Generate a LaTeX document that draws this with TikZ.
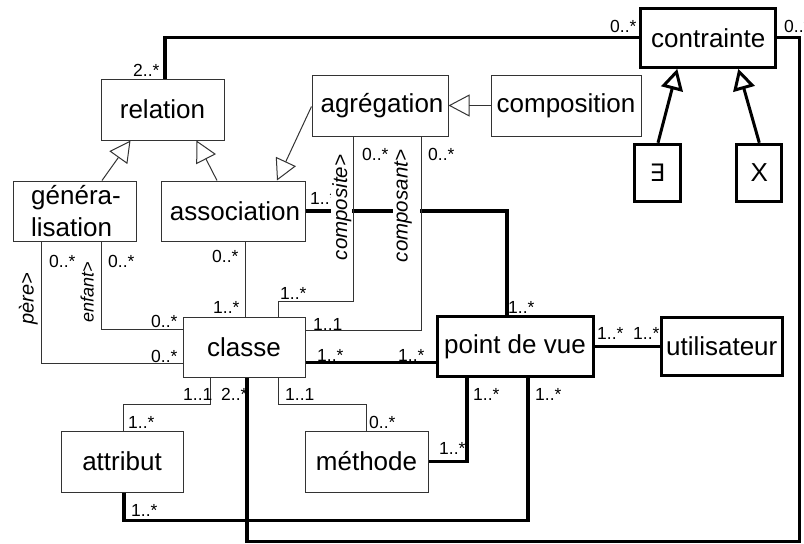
\documentclass[tikz,border=0pt]{standalone}
\usepackage{fontspec}
\setmainfont{Liberation Sans}
\newfontfamily\symbfont{DejaVu Sans}
\usetikzlibrary{arrows.meta}

\tikzset{
  box/.style={draw=black!80, line width=1pt, inner sep=0pt,
    font=\fontsize{26}{32}\selectfont},
  tbox/.style={box, draw=black, line width=3pt},
  thinlink/.style={draw=black!80, line width=1pt},
  thicklink/.style={draw=black, line width=3.2pt},
  mult/.style={font=\fontsize{17.5}{18}\selectfont, inner sep=0pt, anchor=base west},
  role/.style={font=\itshape\fontsize{20.5}{21}\selectfont, rotate=90,
    anchor=base, inner sep=1pt, fill=white},
  spec/.style={-{Triangle[open, length=21pt 0 0, width=22pt 0 0]}},
}

\begin{document}
\begin{tikzpicture}[x=1pt, y=-1pt]
\useasboundingbox (0,0) rectangle (804,544);

% classes
\node[box, minimum width=123, minimum height=61] (relation) at (162.5,109.5) {relation};
\node[box, minimum width=123, minimum height=60, align=left] (gen) at (74.5,211) {\hspace*{3pt}généra-\\\hspace*{3pt}lisation};
\node[box, minimum width=144, minimum height=60] (assoc) at (233,211) {\hspace*{4pt}association};
\node[box, minimum width=136, minimum height=61] (agreg) at (380,105.5) {\hspace*{4pt}agrégation};
\node[box, minimum width=150, minimum height=61] (compos) at (566,105.5) {composition};
\node[tbox, minimum width=134.7, minimum height=59] (contrainte) at (708.3,37.8) {contrainte};
\node[tbox, minimum width=46, minimum height=57.4, font=\symbfont\fontsize{24}{26}\selectfont] (exists) at (657.3,173) {∃};
\node[tbox, minimum width=44.7, minimum height=57.4] (xbox) at (759.3,173) {X};
\node[box, minimum width=122, minimum height=60] (classe) at (244,347) {classe};
\node[box, minimum width=122, minimum height=61] (attribut) at (122,461.5) {attribut};
\node[box, minimum width=123, minimum height=61] (methode) at (366.5,461.5) {méthode};
\node[tbox, minimum width=156, minimum height=59.5] (pdv) at (515,346.5) {point de vue};
\node[tbox, minimum width=120.7, minimum height=58.4] (util) at (721.7,346.5) {utilisateur};

% thick associations
\draw[thicklink] ([xshift=2.5]relation.north) |- (contrainte.west);
\draw[thicklink] (contrainte.east) -- ++(22.3,0) -- ++(0,504) -| ([xshift=3]classe.south);
\draw[thicklink] ([xshift=2]attribut.south) -- ++(0,28) -| ([xshift=13]pdv.south);
\draw[thicklink] ([xshift=-48]pdv.south) |- (methode.east);
\draw[thicklink] ([yshift=-15.5]classe.east) -- ([yshift=-16]pdv.west);
\draw[thicklink] (pdv.east) -- (util.west);
\draw[thicklink] (assoc.east) -| ([xshift=-8]pdv.north);

% thin associations
\draw[thinlink] ([xshift=-27]agreg.south) -- ++(0,165) -| ([xshift=34]classe.north);
\draw[thinlink] ([xshift=41]agreg.south) |- ([yshift=17]classe.east);
\draw[thinlink] ([xshift=12]assoc.south) -- ([xshift=1]classe.north);
\draw[thinlink] ([xshift=26.5]gen.south) |- ([yshift=18]classe.west);
\draw[thinlink] ([xshift=-33.5]gen.south) |- ([yshift=-16]classe.west);
\draw[thinlink] ([xshift=-34]classe.south) -- ++(0,27) -| ([xshift=1]attribut.north);
\draw[thinlink] ([xshift=34]classe.south) -- ++(0,27) -| (methode.north);

% specialisations
\draw[thinlink, spec] ([xshift=27.5]gen.north) -- ([xshift=-32]relation.south);
\draw[thinlink, spec] ([xshift=-16]assoc.north) -- ([xshift=34]relation.south);
\draw[thinlink, spec] ([yshift=-1]agreg.west) -- ([xshift=44]assoc.north);
\draw[thinlink, spec] (compos.west) -- (agreg.east);
\draw[thicklink, line width=3pt, spec] ([xshift=0.7]exists.north) -- ([xshift=-31]contrainte.south);
\draw[thicklink, line width=3pt, spec] (xbox.north) -- ([xshift=30]contrainte.south);

% multiplicities
\node[mult] (m1) at (133,76) {2..*};
\node[mult] (m2) at (610,32) {0..*};
\node[mult] (m3) at (784,32) {0..*};
\node[mult] (m4) at (310,204) {1..*};
\node[mult] (m5) at (362,160) {0..*};
\node[mult] (m6) at (428,160) {0..*};
\node[mult] (m7) at (280,299) {1..*};
\node[mult] (m8) at (313,330) {1..1};
\node[mult] (m9) at (508,313) {1..*};
\node[mult] (m10) at (317,361) {1..*};
\node[mult] (m11) at (398,361) {1..*};
\node[mult] (m12) at (473,400) {1..*};
\node[mult] (m13) at (535,400) {1..*};
\node[mult] (m14) at (439,454) {1..*};
\node[mult] (m15) at (369,428) {0..*};
\node[mult] (m16) at (285,400) {1..1};
\node[mult] (m17) at (183,400) {1..1};
\node[mult] (m18) at (221,400) {2..*};
\node[mult] (m19) at (128,428) {1..*};
\node[mult] (m20) at (131,516) {1..*};
\node[mult] (m21) at (212,262) {0..*};
\node[mult] (m22) at (213,313) {1..*};
\node[mult] (m23) at (49,267) {0..*};
\node[mult] (m24) at (108,267) {0..*};
\node[mult] (m25) at (151,327) {0..*};
\node[mult] (m26) at (151,362) {0..*};
\node[mult] (m27) at (597,339) {1..*};
\node[mult] (m28) at (633,339) {1..*};

% role names
\node[role] (rcomposite) at (347,207.5) {composite>};
\node[role, text depth=11.5pt] (rcomposant) at (407.5,206) {composant>};
\node[role, font=\itshape\fontsize{18}{19}\selectfont] (renfant) at (93.5,292) {enfant>};
\node[role, font=\itshape\fontsize{20}{21}\selectfont] (rpere) at (33.5,299) {père>};
\end{tikzpicture}
\end{document}
